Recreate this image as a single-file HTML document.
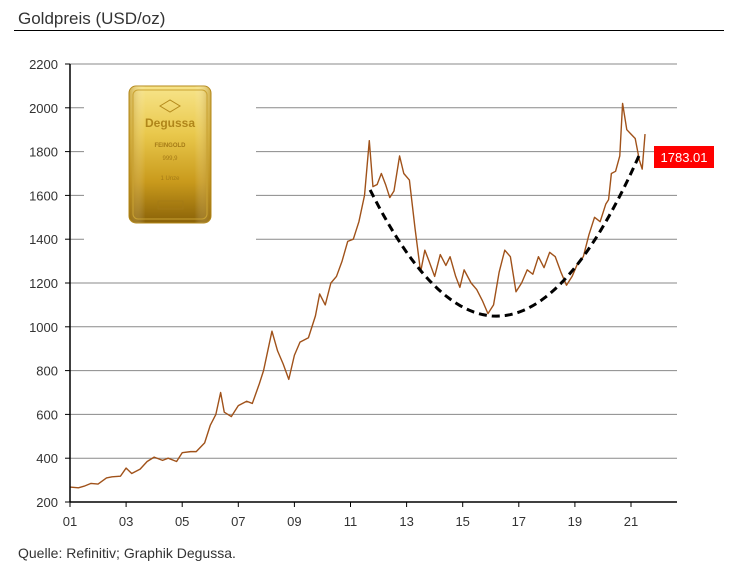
<!DOCTYPE html>
<html><head><meta charset="utf-8"><style>
body{margin:0;background:#fff;width:738px;height:574px;overflow:hidden;font-family:"Liberation Sans",sans-serif;}
</style></head><body>
<svg id="chart" width="738" height="574" xmlns="http://www.w3.org/2000/svg">
<text x="18" y="24" font-size="17" fill="#333">Goldpreis (USD/oz)</text>
<line x1="14" y1="30.5" x2="724" y2="30.5" stroke="#000" stroke-width="1"/>
<g id="grid"></g>
<rect x="84" y="70" width="172" height="170" fill="#fff"/>
<g id="bar">
<defs>
<linearGradient id="gg" x1="0" y1="0" x2="0" y2="1">
<stop offset="0" stop-color="#f7e48a"/><stop offset="0.35" stop-color="#e9c84c"/><stop offset="0.7" stop-color="#c99a1c"/><stop offset="1" stop-color="#8a6208"/>
</linearGradient>
<linearGradient id="gg2" x1="0" y1="0" x2="1" y2="0">
<stop offset="0" stop-color="#a87a10" stop-opacity="0.5"/><stop offset="0.2" stop-color="#fff" stop-opacity="0"/><stop offset="0.8" stop-color="#fff" stop-opacity="0"/><stop offset="1" stop-color="#a87a10" stop-opacity="0.5"/>
</linearGradient>
</defs>
<rect x="129" y="86" width="82" height="137" rx="7" fill="url(#gg)" stroke="#b58a1a"/>
<rect x="129" y="86" width="82" height="137" rx="7" fill="url(#gg2)"/>
<rect x="133" y="90" width="74" height="129" rx="5" fill="none" stroke="#c9a232" stroke-width="1"/>
<path d="M160,106 L170,100 L180,106 L170,112 Z" fill="none" stroke="#b48a1c"/>
<text x="170" y="127" font-size="12" font-weight="bold" fill="#b0861a" text-anchor="middle">Degussa</text>
<text x="170" y="147" font-size="6" font-weight="bold" fill="#a47a16" text-anchor="middle">FEINGOLD</text>
<text x="170" y="160" font-size="6" fill="#a47a16" text-anchor="middle">999,9</text>
<text x="170" y="180" font-size="6" fill="#a47a16" text-anchor="middle">1 Unze</text>
<rect x="158" y="201" width="25" height="8" fill="none" stroke="#a47a16" stroke-width="0.8"/>
</g>
<g id="plot"></g>
<g id="axes"></g>
<rect x="654" y="146" width="60" height="22" fill="#ff0000"/>
<text x="684" y="162" font-size="13" fill="#fff" text-anchor="middle">1783.01</text>
<text x="18" y="558" font-size="14" fill="#333">Quelle: Refinitiv; Graphik Degussa.</text>
</svg>
<script>
const years=[2001,2001.3,2001.5,2001.75,2002,2002.3,2002.5,2002.8,2003,2003.2,2003.5,2003.75,2004,2004.3,2004.5,2004.8,2005,2005.3,2005.5,2005.8,2006,2006.2,2006.37,2006.5,2006.75,2007,2007.3,2007.5,2007.75,2007.9,2008.1,2008.2,2008.4,2008.6,2008.8,2009,2009.2,2009.5,2009.75,2009.9,2010.1,2010.3,2010.5,2010.7,2010.9,2011.1,2011.3,2011.5,2011.67,2011.8,2011.95,2012.1,2012.25,2012.4,2012.55,2012.75,2012.9,2013.1,2013.3,2013.5,2013.65,2013.8,2014,2014.2,2014.4,2014.55,2014.75,2014.9,2015.05,2015.3,2015.5,2015.7,2015.9,2016.1,2016.3,2016.5,2016.7,2016.9,2017.1,2017.3,2017.5,2017.7,2017.9,2018.1,2018.3,2018.5,2018.7,2018.9,2019.1,2019.3,2019.5,2019.7,2019.9,2020.1,2020.2,2020.3,2020.45,2020.6,2020.7,2020.85,2021,2021.15,2021.3,2021.4,2021.5];
const prices=[268,265,272,285,282,310,315,318,355,330,350,385,405,390,400,385,425,430,430,470,550,600,700,610,590,640,660,650,740,800,920,980,890,830,760,870,930,950,1050,1150,1100,1200,1230,1300,1390,1400,1480,1600,1850,1640,1650,1700,1650,1590,1620,1780,1700,1670,1450,1250,1350,1300,1230,1330,1280,1320,1230,1180,1260,1200,1170,1120,1060,1100,1250,1350,1320,1160,1200,1260,1240,1320,1270,1340,1320,1250,1190,1230,1290,1320,1420,1500,1480,1560,1580,1700,1710,1780,2020,1900,1880,1860,1760,1720,1880,1783];
const yTicks=[200,400,600,800,1000,1200,1400,1600,1800,2000,2200];
const xTickLabels=["01","03","05","07","09","11","13","15","17","19","21"];
const trendYears=[2011.7,2016.0,2021.35];
const trendValues=[1625,1050,1800];
const X=y=>70+(y-2001)*28.05;
const Y=v=>502-(v-200)/200*43.8;
const NS="http://www.w3.org/2000/svg";
function mk(t,a,p){const e=document.createElementNS(NS,t);for(const k in a)e.setAttribute(k,a[k]);p.appendChild(e);return e;}
const grid=document.getElementById('grid'),axes=document.getElementById('axes'),plot=document.getElementById('plot');
yTicks.forEach(v=>{
 if(v>200){const l=mk('line',{x1:70,x2:677,y1:Y(v),y2:Y(v),stroke:'#8a8a8a','stroke-width':1},grid);
 
 }
 const t=mk('text',{x:58,y:Y(v)+5,'font-size':13,fill:'#333','text-anchor':'end'},axes);t.textContent=v;
 
 
 mk('line',{x1:65,x2:70,y1:Y(v),y2:Y(v),stroke:'#000'},axes);
});
const ya=mk('line',{x1:70,x2:70,y1:Y(2200),y2:Y(200),stroke:'#000','stroke-width':1.5},axes);


const xa=mk('line',{x1:70,x2:677,y1:Y(200),y2:Y(200),stroke:'#000','stroke-width':1.5},axes);


xTickLabels.forEach((s,i)=>{const yr=2001+2*i;
 mk('line',{x1:X(yr),x2:X(yr),y1:502,y2:507,stroke:'#000'},axes);
 const t=mk('text',{x:X(yr),y:526,'font-size':13,fill:'#333','text-anchor':'middle'},axes);t.textContent=s;
 
 
});
const line=mk('polyline',{points:years.map((y,i)=>X(y)+','+Y(prices[i])).join(' '),fill:'none',stroke:'#a0521a','stroke-width':1.4,'stroke-linejoin':'round'},plot);


const [x0,x1,x2]=trendYears,[y0,y1,y2]=trendValues;
function lag(x){return y0*(x-x1)*(x-x2)/((x0-x1)*(x0-x2))+y1*(x-x0)*(x-x2)/((x1-x0)*(x1-x2))+y2*(x-x0)*(x-x1)/((x2-x0)*(x2-x1));}
let pts=[];for(let i=0;i<=60;i++){const x=x0+(x2-x0)*i/60;pts.push(X(x)+','+Y(lag(x)));}
const tr=mk('polyline',{points:pts.join(' '),fill:'none',stroke:'#000','stroke-width':3,'stroke-dasharray':'8,5'},plot);


</script>
</body></html>
